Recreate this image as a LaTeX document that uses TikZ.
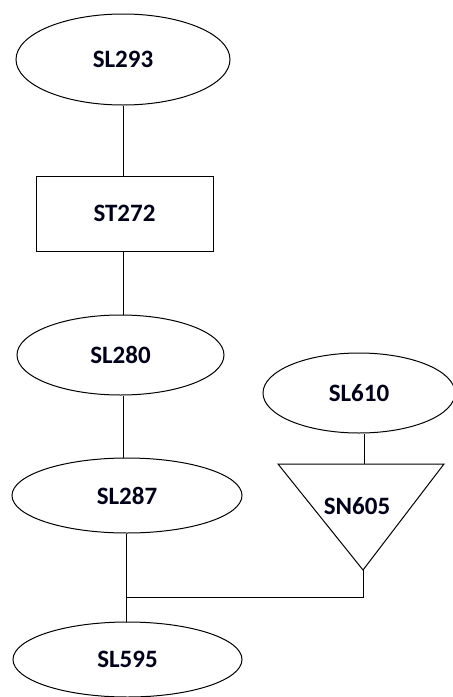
\documentclass[tikz,border=0pt]{standalone}
\usepackage{fontspec}
\setmainfont{Carlito}
\usetikzlibrary{shapes.geometric}
\begin{document}
\begin{tikzpicture}[x=1pt,y=1pt,line width=1pt,
  lbl/.style={font=\fontsize{25}{28}\selectfont\bfseries, text=black!90!blue},
  ell/.style={ellipse, draw, inner sep=0pt, lbl},
  box/.style={rectangle, draw, inner sep=0pt, lbl}]
\useasboundingbox (0,0) rectangle (453,-697);
\node[ell, minimum width=214, minimum height=91] (sl293) at (123,-59.5) {SL293};
\node[box, minimum width=177, minimum height=75] (st272) at (124.5,-213.5) {ST272};
\node[ell, minimum width=207, minimum height=80] (sl280) at (120.5,-355) {SL280};
\node[ell, minimum width=230, minimum height=75] (sl287) at (127,-495.5) {SL287};
\node[ell, minimum width=229, minimum height=75] (sl595) at (127.5,-659.5) {SL595};
\node[ell, minimum width=192, minimum height=80] (sl610) at (359,-393) {SL610};
\coordinate (tl) at (278,-464);
\coordinate (tr) at (444,-464);
\coordinate (ap) at (363,-570);
\coordinate (tt) at (364,-464);
\draw (tl) -- (tr) -- (ap) -- cycle;
\node[lbl, inner sep=0pt] (sn605) at (357,-506) {SN605};
\coordinate (j) at (126,-597);
% connectors
\draw ([xshift=0pt]sl293.south) -- (sl293.south |- st272.north);
\draw (123,0 |- st272.south) coordinate (a1) -- (a1 |- sl280.north);
\draw (123,0 |- sl280.south) coordinate (a2) -- (a2 |- sl287.north);
\draw (126,0 |- sl287.south) coordinate (a3) -- (a3 |- sl595.north);
\draw (sl610.south -| tt) -- (tt);
\draw (ap) -- (ap |- j) -- (j);
\end{tikzpicture}
\end{document}
